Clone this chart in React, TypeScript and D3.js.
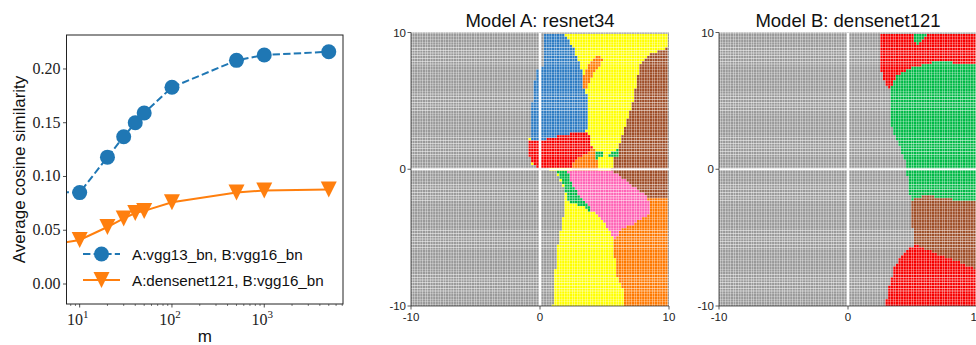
import React, { useMemo } from 'react';
import * as d3 from 'd3';

const W = 976;
const H = 345;

// ---- left chart: average cosine similarity vs m ----
const mValues = [1, 10, 20, 30, 40, 50, 100, 500, 1000, 5000];
const simVgg13 = [0.087, 0.085, 0.118, 0.137, 0.150, 0.159, 0.183, 0.208, 0.213, 0.216];
const simDensenet = [0.026, 0.041, 0.053, 0.061, 0.066, 0.068, 0.076, 0.085, 0.087, 0.088];
const yTicks = [0, 0.05, 0.1, 0.15, 0.2];
const xTickExps = [1, 2, 3];
const legendLabels = ['A:vgg13_bn, B:vgg16_bn', 'A:densenet121, B:vgg16_bn'];

// ---- decision region maps (polygons in data coords, -10..10) ----
const mapTicks = [-10, 0, 10];
const titles = ['Model A: resnet34', 'Model B: densenet121'];

const aColored = [[0.26, 10], [10, 10], [10, -10], [0.99, -10], [1.17, -7.61], [1.3, -5.91], [1.56, -4.69], [1.82, -3.48], [2.01, -2.75], [1.82, -1.29], [1.17, -0.07], [-0.26, 0.17], [-0.57, 0.29], [-0.83, 0.9], [-0.83, 2.11], [-0.73, 2.6], [-0.65, 4.3], [-0.52, 6.0], [-0.21, 7.22], [0.21, 7.46]];
const aBlue = [[0.26, 10], [1.82, 10], [2.6, 8.92], [3.13, 7.46], [3.52, 6.49], [3.65, 5.03], [3.7, 2.84], [3.13, 2.72], [1.56, 2.48], [0.26, 2.16], [-0.78, 2.11], [-0.73, 2.6], [-0.65, 4.3], [-0.52, 6.0], [-0.21, 7.22], [0.21, 7.46]];
const aOrangeStrip = [[3.25, 5.8], [3.35, 6.9], [3.95, 7.9], [4.4, 8.4], [4.85, 8.15], [4.75, 7.6], [4.3, 7.15], [3.9, 6.55], [3.7, 5.85]];
const aRed = [[-0.83, 2.11], [0.26, 2.16], [1.56, 2.48], [3.13, 2.72], [3.78, 2.6], [4.04, 1.63], [3.65, 1.14], [2.73, 0.66], [2.47, 0.17], [-0.26, 0.17], [-0.57, 0.41], [-0.83, 0.9]];
const aOrangeMid = [[2.73, 0.66], [3.65, 1.14], [4.04, 1.63], [4.43, 1.26], [4.56, 0.41], [4.51, 0], [2.6, 0], [2.47, 0.17]];
const aBrown = [[10, 8.92], [8.59, 8.43], [7.81, 7.83], [7.55, 6.73], [7.29, 5.27], [6.9, 4.06], [6.51, 2.84], [6.12, 1.63], [5.73, 0.9], [5.6, 0], [5.99, -0.56], [7.29, -1.29], [8.33, -2.02], [10, -2.02]];
const aGreenBit1 = [[4.3, 1.24], [4.95, 1.24], [5.0, 0.85], [4.38, 0.78]];
const aGreenBit2 = [[5.21, 1.09], [6.12, 1.51], [5.99, 0.9], [5.34, 0.85]];
const aPink = [[2.08, -0.07], [5.6, -0.07], [6.77, -0.92], [8.33, -2.02], [8.59, -3.23], [7.29, -3.96], [6.25, -4.45], [5.73, -5.18], [5.34, -4.45], [4.69, -3.48], [3.91, -2.99], [3.26, -2.26], [2.6, -1.29]];
const aGreenStrip = [[1.17, -0.07], [2.08, -0.07], [2.6, -1.29], [3.26, -2.26], [3.96, -2.87], [3.91, -3.11], [3.39, -2.75], [2.6, -2.5], [2.08, -2.26], [1.95, -1.29], [1.56, -0.56]];
const aOrangeLow = [[8.33, -2.02], [10, -2.02], [10, -10], [6.56, -10], [6.38, -8.58], [5.86, -7.61], [5.73, -5.18], [6.25, -4.45], [7.29, -3.96], [8.59, -3.23]];

const bRed = [[2.66, 10], [10, 10], [10, -10], [2.92, -10], [3.23, -8.34], [3.62, -7.12], [4.26, -6.15], [5.12, -5.54], [5.04, -4.69], [4.91, -3.23], [4.78, -1.77], [4.57, -0.32], [4.39, 0.66], [4.01, 1.63], [3.62, 2.36], [3.28, 3.57], [3.28, 5.76], [3.1, 5.95], [2.76, 6.49], [2.45, 7.7], [2.45, 9.4]];
const bGreen = [[3.28, 5.76], [3.75, 6.85], [5.04, 7.46], [6.59, 7.83], [7.62, 7.83], [10, 7.7], [10, -2.26], [8.4, -2.26], [7.11, -2.02], [5.81, -1.94], [4.83, -2.26], [4.73, -1.29], [4.52, 0], [4.39, 0.66], [4.01, 1.63], [3.62, 2.36], [3.28, 3.57]];
const bGreenTop = [[5.04, 10], [6.33, 10], [5.94, 9.53], [5.43, 9.16], [5.09, 9.4]];
const bBrown = [[4.83, -2.26], [5.81, -1.94], [7.11, -2.02], [8.4, -2.26], [10, -2.26], [10, -7.36], [8.91, -6.88], [7.11, -6.27], [5.56, -5.66], [5.17, -5.42], [5.04, -4.69], [4.91, -3.23]];

const GRAY = '#999999';
const YELLOW = '#ffff00';
const BLUE = '#2d7bc2';
const RED = '#f60000';
const ORANGE = '#ff7900';
const BROWN = '#9e4e28';
const PINK = '#ff64b6';
const GREEN = '#00b946';

const layersA: [string, number[][]][] = [
  [YELLOW, aColored], [BLUE, aBlue], [ORANGE, aOrangeStrip], [RED, aRed], [ORANGE, aOrangeMid],
  [BROWN, aBrown], [GREEN, aGreenBit1], [GREEN, aGreenBit2], [PINK, aPink], [GREEN, aGreenStrip], [ORANGE, aOrangeLow],
];
const layersB: [string, number[][]][] = [[RED, bRed], [GREEN, bGreen], [GREEN, bGreenTop], [BROWN, bBrown]];

const gridVals = d3.range(101).map(i => -10 + i * 0.2);

const SANS = 'Liberation Sans, Arial, sans-serif';
const SERIF = 'Liberation Serif, Times New Roman, serif';

function MapPanel({ left, right, top, bottom, title, layers, id }) {
  const xs = d3.scaleLinear().domain([-10, 10]).range([left, right]);
  const ys = d3.scaleLinear().domain([-10, 10]).range([bottom, top]);
  const paths = useMemo(() => {
    const byColor = new Map<string, string[]>();
    const dx = xs(0.2) - xs(0);
    const dy = ys(0) - ys(0.2);
    const g = 0.18;
    for (const gy of gridVals) {
      for (const gx of gridVals) {
        let color = GRAY;
        for (const [c, poly] of layers) {
          if (d3.polygonContains(poly as [number, number][], [gx, gy])) color = c;
        }
        const px = xs(gx) - dx / 2 + g;
        const py = ys(gy) - dy / 2 + g;
        if (!byColor.has(color)) byColor.set(color, []);
        byColor.get(color)!.push(`M${px.toFixed(2)},${py.toFixed(2)}h${(dx - 2 * g).toFixed(2)}v${(dy - 2 * g).toFixed(2)}h${(-(dx - 2 * g)).toFixed(2)}z`);
      }
    }
    return Array.from(byColor.entries());
  }, [left, right, top, bottom, layers]);

  return (
    <g>
      <defs>
        <clipPath id={id}>
          <rect x={left} y={top} width={right - left} height={bottom - top} />
        </clipPath>
      </defs>
      <g clipPath={`url(#${id})`}>
        <rect x={left} y={top} width={right - left} height={bottom - top} fill="#fff" />
        {paths.map(([c, d]) => <path key={c} d={d.join('')} fill={c} />)}
        <line x1={xs(0)} x2={xs(0)} y1={top} y2={bottom} stroke="#fff" strokeWidth={2} />
        <line x1={left} x2={right} y1={ys(0)} y2={ys(0)} stroke="#fff" strokeWidth={2} />
      </g>
      <line x1={left} x2={left} y1={top} y2={bottom} stroke="#333" strokeWidth={0.8} />
      <line x1={left} x2={right} y1={bottom} y2={bottom} stroke="#333" strokeWidth={0.8} />
      {mapTicks.map(t => (
        <g key={'y' + t}>
          <line x1={left - 3.5} x2={left} y1={ys(t)} y2={ys(t)} stroke="#333" strokeWidth={0.8} />
          <text x={left - 5} y={ys(t) + 4} textAnchor="end" fontSize={11.5} fontFamily={SANS} fill="#222">{t}</text>
        </g>
      ))}
      {mapTicks.map(t => (
        <g key={'x' + t}>
          <line x1={xs(t)} x2={xs(t)} y1={bottom} y2={bottom + 3.5} stroke="#333" strokeWidth={0.8} />
          <text x={xs(t)} y={bottom + 15} textAnchor="middle" fontSize={11.5} fontFamily={SANS} fill="#222">{t}</text>
        </g>
      ))}
      <text x={(left + right) / 2} y={top - 6} textAnchor="middle" fontSize={18.5} fontFamily={SANS} fill="#111">{title}</text>
    </g>
  );
}

function SimilarityChart() {
  const left = 66.5, right = 343, top = 35, bottom = 304;
  const x = d3.scaleLog().domain([7.2, 7130]).range([left, right]);
  const y = d3.scaleLinear().domain([-0.0186, 0.2316]).range([bottom, top]);
  const line = d3.line<number>().x((_, i) => x(mValues[i])).y(d => y(d));
  const minor: number[] = [];
  for (let e = 0; e <= 3; e++) for (let k = 2; k <= 9; k++) {
    const v = k * Math.pow(10, e);
    if (v >= 7.2 && v <= 7130) minor.push(v);
  }
  const tri = (cx: number, cy: number) => `M${cx - 8},${cy - 8}L${cx + 8},${cy - 8}L${cx},${cy + 8}Z`;
  return (
    <g>
      <defs>
        <clipPath id="simclip">
          <rect x={left} y={top} width={right - left} height={bottom - top} />
        </clipPath>
      </defs>
      <g clipPath="url(#simclip)">
        <path d={line(simVgg13) || ''} fill="none" stroke="#1f77b4" strokeWidth={2} strokeDasharray="7.4 3.2" />
        <path d={line(simDensenet) || ''} fill="none" stroke="#ff7f0e" strokeWidth={2} />
        {simVgg13.map((v, i) => <circle key={'c' + i} cx={x(mValues[i])} cy={y(v)} r={7.5} fill="#1f77b4" />)}
        {simDensenet.map((v, i) => <path key={'t' + i} d={tri(x(mValues[i]), y(v))} fill="#ff7f0e" />)}
      </g>
      <rect x={left} y={top} width={right - left} height={bottom - top} fill="none" stroke="#222" strokeWidth={1} />
      {yTicks.map(t => (
        <g key={'yt' + t}>
          <line x1={left - 3.5} x2={left} y1={y(t)} y2={y(t)} stroke="#222" strokeWidth={0.8} />
          <text x={left - 6} y={y(t) + 5} textAnchor="end" fontSize={16} fontFamily={SERIF} fill="#222">{t.toFixed(2)}</text>
        </g>
      ))}
      {xTickExps.map(e => (
        <g key={'xt' + e}>
          <line x1={x(Math.pow(10, e))} x2={x(Math.pow(10, e))} y1={bottom} y2={bottom + 3.5} stroke="#222" strokeWidth={0.8} />
          <text x={x(Math.pow(10, e)) - 2} y={bottom + 21} textAnchor="middle" fontSize={16} fontFamily={SERIF} fill="#222">
            10<tspan dy={-7} fontSize={11}>{e}</tspan>
          </text>
        </g>
      ))}
      {minor.map(v => (
        <line key={'mn' + v} x1={x(v)} x2={x(v)} y1={bottom} y2={bottom + 2} stroke="#222" strokeWidth={0.6} />
      ))}
      <text transform={`translate(25,${(top + bottom) / 2}) rotate(-90)`} textAnchor="middle" fontSize={17} fontFamily={SANS} fill="#111">Average cosine similarity</text>
      <text x={(left + right) / 2} y={342} textAnchor="middle" fontSize={17} fontFamily={SANS} fill="#111">m</text>
      {/* legend */}
      <g>
        <line x1={83} x2={120} y1={254} y2={254} stroke="#1f77b4" strokeWidth={2} strokeDasharray="7.4 3.2" />
        <circle cx={101.5} cy={254} r={7.5} fill="#1f77b4" />
        <text x={132} y={260} fontSize={15.2} fontFamily={SANS} fill="#111">{legendLabels[0]}</text>
        <line x1={83} x2={120} y1={280} y2={280} stroke="#ff7f0e" strokeWidth={2} />
        <path d={tri(101.5, 280)} fill="#ff7f0e" />
        <text x={132} y={286} fontSize={15.2} fontFamily={SANS} fill="#111">{legendLabels[1]}</text>
      </g>
    </g>
  );
}

export default function App() {
  return (
    <svg width={W} height={H} style={{ position: 'absolute', left: 0, top: 0, background: '#fff' }}>
      <SimilarityChart />
      <MapPanel id="mapA" left={411} right={669} top={32.5} bottom={306} title={titles[0]} layers={layersA} />
      <MapPanel id="mapB" left={719} right={977} top={32.5} bottom={306} title={titles[1]} layers={layersB} />
    </svg>
  );
}
